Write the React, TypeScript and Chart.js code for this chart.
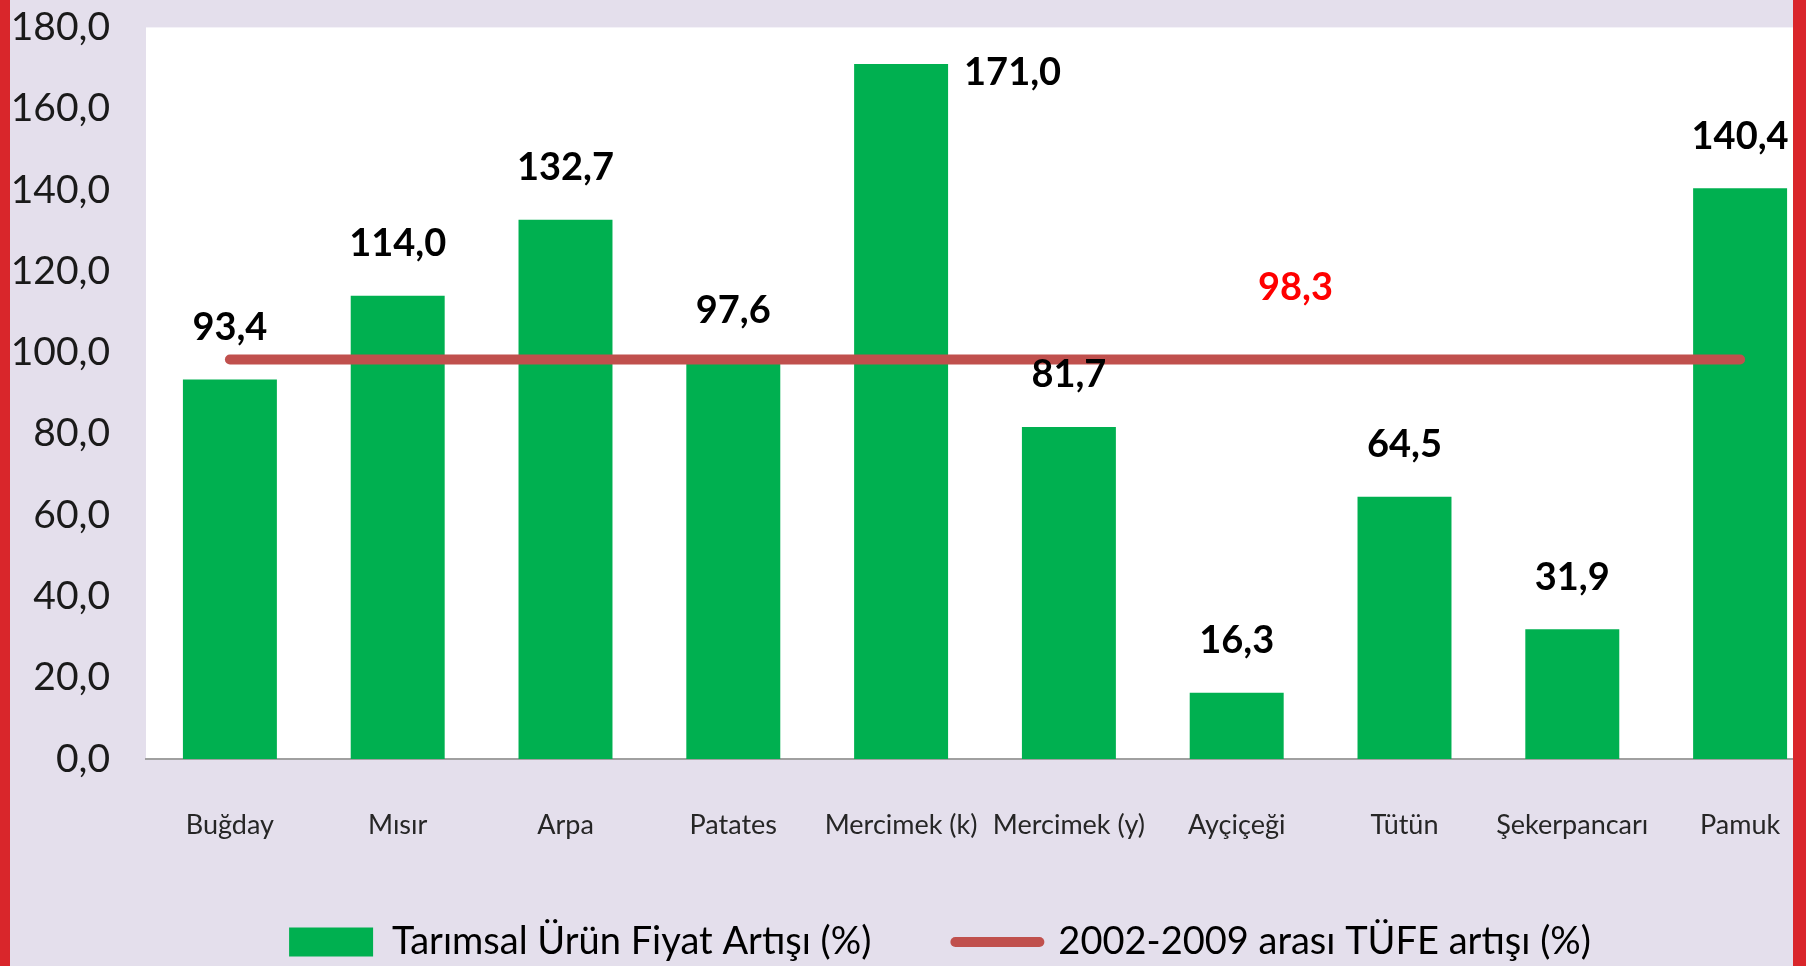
import React, { useEffect, useRef } from "react";
import { Chart, registerables } from "chart.js";

Chart.register(...registerables);

const categories = [
  "Buğday",
  "Mısır",
  "Arpa",
  "Patates",
  "Mercimek (k)",
  "Mercimek (y)",
  "Ayçiçeği",
  "Tütün",
  "Şekerpancarı",
  "Pamuk",
];
const priceIncrease = [93.4, 114.0, 132.7, 97.6, 171.0, 81.7, 16.3, 64.5, 31.9, 140.4];
const cpiIncrease = [98.3, 98.3, 98.3, 98.3, 98.3, 98.3, 98.3, 98.3, 98.3, 98.3];
const seriesNames = ["Tarımsal Ürün Fiyat Artışı (%)", "2002-2009 arası TÜFE artışı (%)"];
const yMin = 0;
const yMax = 180;
const yStep = 20;

const FONT = 'Lato, "Open Sans", sans-serif';
const GREEN = "#00B050";
const LINE_RED = "#C0504D";
const BG = "#E4DFEC";
const BORDER_RED = "#D9262B";

const LEGEND_FONT = 38;
const LEGEND_PAD = 84;
const LEGEND_CENTER_Y = 942;
const LEGEND_SHIFT_X = 28;

const fmt = (v: number) => v.toFixed(1).replace(".", ",");

const whiteArea = {
  id: "whiteArea",
  beforeDraw(chart: any) {
    const { ctx, chartArea } = chart;
    ctx.save();
    ctx.fillStyle = "#FFFFFF";
    ctx.fillRect(chartArea.left, chartArea.top, chartArea.right - chartArea.left, chartArea.bottom - chartArea.top);
    ctx.restore();
  },
};

const legendPlace = {
  id: "legendPlace",
  afterLayout(chart: any) {
    const lg = chart.legend;
    if (!lg) return;
    lg.top = LEGEND_CENTER_Y - LEGEND_PAD - LEGEND_FONT / 2;
    lg.bottom = chart.height;
    lg.height = lg.bottom - lg.top;
    lg.left += LEGEND_SHIFT_X;
    lg.right += LEGEND_SHIFT_X;
  },
};

const valueLabels = {
  id: "valueLabels",
  afterDatasetsDraw(chart: any) {
    const { ctx, chartArea } = chart;
    const meta = chart.getDatasetMeta(0);
    const data = chart.data.datasets[0].data as number[];
    ctx.save();
    ctx.font = `bold 38px ${FONT}`;
    ctx.fillStyle = "#000000";
    ctx.textBaseline = "middle";
    meta.data.forEach((el: any, i: number) => {
      const txt = fmt(data[i]);
      const cy = el.y - 52;
      if (cy - 20 < chartArea.top) {
        ctx.textAlign = "left";
        ctx.fillText(txt, el.x + el.width / 2 + 16, el.y + 9);
      } else {
        ctx.textAlign = "center";
        ctx.fillText(txt, el.x, cy);
      }
    });
    const xs = chart.scales.x;
    const ys = chart.scales.y;
    const lineVal = (chart.data.datasets[1].data as number[])[0];
    ctx.fillStyle = "#FF0000";
    ctx.textAlign = "center";
    ctx.fillText(fmt(lineVal), xs.getPixelForValue(6.35), ys.getPixelForValue(lineVal) - 72);
    ctx.restore();
  },
};

export default function App() {
  const ref = useRef<HTMLCanvasElement | null>(null);

  useEffect(() => {
    document.body.style.margin = "0";
    document.body.style.overflow = "hidden";
    if (!ref.current) return;
    const chart = new Chart(ref.current, {
      type: "bar",
      data: {
        labels: categories,
        datasets: [
          {
            type: "bar",
            label: seriesNames[0],
            data: priceIncrease,
            backgroundColor: GREEN,
            borderWidth: 0,
            barPercentage: 0.56,
            categoryPercentage: 1,
            order: 1,
          },
          {
            type: "line",
            label: seriesNames[1],
            data: cpiIncrease,
            borderColor: LINE_RED,
            backgroundColor: LINE_RED,
            borderWidth: 10,
            borderCapStyle: "round",
            pointRadius: 0,
            pointHoverRadius: 0,
            order: 0,
          },
        ] as any,
      },
      options: {
        responsive: false,
        animation: false,
        devicePixelRatio: 1,
        layout: { padding: { left: 0, right: 0, top: 25, bottom: 0 } },
        plugins: {
          tooltip: { enabled: false },
          legend: {
            position: "bottom",
            align: "center",
            maxHeight: 107,
            labels: {
              usePointStyle: true,
              pointStyleWidth: 84,
              boxHeight: 29,
              padding: LEGEND_PAD,
              color: "#000000",
              font: { family: FONT, size: LEGEND_FONT },
              sort: (a: any, b: any) => a.datasetIndex - b.datasetIndex,
              generateLabels(chart: any) {
                const items = Chart.defaults.plugins.legend.labels.generateLabels(chart);
                return items.map((it: any) => {
                  const isBar = it.datasetIndex === 0;
                  return {
                    ...it,
                    pointStyle: isBar ? "rect" : "line",
                    lineWidth: isBar ? 0 : 10,
                    lineCap: "round",
                    strokeStyle: isBar ? GREEN : LINE_RED,
                    fillStyle: isBar ? GREEN : LINE_RED,
                  };
                });
              },
            },
          },
        },
        scales: {
          x: {
            grid: { display: false, drawTicks: true, tickLength: 46 },
            border: { display: true, color: "#A0A0A0", width: 2 },
            ticks: {
              autoSkip: false,
              maxRotation: 0,
              minRotation: 0,
              padding: 4,
              color: "#262626",
              font: { family: FONT, size: 27 },
            },
            afterFit(s: any) {
              s.height = 100;
            },
          },
          y: {
            min: yMin,
            max: yMax,
            grid: { display: false, drawTicks: true, tickLength: 32 },
            border: { display: false },
            ticks: {
              stepSize: yStep,
              padding: 4,
              color: "#1A1A1A",
              font: { family: FONT, size: 39 },
              callback: (v: any) => fmt(Number(v)),
            },
            afterFit(s: any) {
              s.width = 146;
            },
          },
        },
      } as any,
      plugins: [whiteArea, legendPlace, valueLabels],
    });
    return () => chart.destroy();
  }, []);

  return (
    <div
      style={{
        position: "fixed",
        left: 0,
        top: 0,
        width: 1806,
        height: 966,
        overflow: "hidden",
        background: BG,
      }}
    >
      <canvas ref={ref} width={1824} height={966} style={{ position: "absolute", left: 0, top: 0 }} />
      <div style={{ position: "absolute", left: 0, top: 0, width: 10, height: 966, background: BORDER_RED }} />
      <div style={{ position: "absolute", left: 1793, top: 0, width: 13, height: 966, background: BORDER_RED }} />
    </div>
  );
}
